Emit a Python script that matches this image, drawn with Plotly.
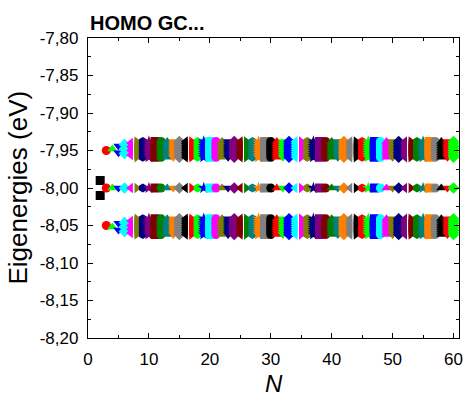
import plotly.graph_objects as go

# Chain lengths N and the HOMO eigenenergies (eV) found for each of them
n_values = list(range(2, 61))

# N = 2: a single split pair around -8.00 eV
pair_n2 = [-7.990, -8.010]

# Upper cluster (around -7.95 eV) for short chains, then the saturated spread
upper_short = {
    3: [-7.950],
    4: [-7.948],
    5: [-7.944, -7.953],
    6: [-7.942, -7.948, -7.954],
    7: [-7.940, -7.945, -7.950, -7.956],
}
upper_long = [-7.938, -7.941, -7.944, -7.947, -7.950, -7.953, -7.956, -7.959]

# Central level, essentially flat at -8.00 eV
middle_level = [-8.000]

# Lower cluster (around -8.05 eV)
lower_short = {
    3: [-8.050],
    4: [-8.052],
    5: [-8.047, -8.056],
    6: [-8.046, -8.052, -8.058],
    7: [-8.044, -8.050, -8.055, -8.060],
}
lower_long = [-8.041, -8.044, -8.047, -8.050, -8.053, -8.056, -8.059, -8.062]

# Axis ticks
y_tickvals = [-8.20, -8.15, -8.10, -8.05, -8.00, -7.95, -7.90, -7.85, -7.80]
y_ticktext = ["-8,20", "-8,15", "-8,10", "-8,05", "-8,00", "-7,95", "-7,90", "-7,85", "-7,80"]
x_tickvals = [0, 10, 20, 30, 40, 50, 60]
x_ticktext = ["0", "10", "20", "30", "40", "50", "60"]

# Origin-like cycling styles
palette = ["#000000", "#FF0000", "#00FF00", "#0000FF", "#00FFFF", "#FF00FF",
           "#808000", "#000080", "#800080", "#800000", "#008000", "#008080",
           "#FF8000", "#808080"]
symbol_cycle = ["square", "circle", "triangle-up", "triangle-down", "diamond",
                "triangle-left", "triangle-right", "hexagon", "star"]

FONT = "Arial, 'Liberation Sans', sans-serif"

fig = go.Figure()
for i, n in enumerate(n_values):
    if n == 2:
        energies = list(pair_n2)
    else:
        up = upper_short.get(n, upper_long)
        lo = lower_short.get(n, lower_long)
        energies = list(up) + list(middle_level) + list(lo)
    fig.add_trace(go.Scatter(
        x=[n] * len(energies),
        y=energies,
        mode="markers",
        marker=dict(
            symbol=symbol_cycle[i % len(symbol_cycle)],
            color=palette[i % len(palette)],
            size=9,
            line=dict(width=0),
        ),
        showlegend=False,
        hoverinfo="x+y",
    ))

axis_common = dict(
    showline=True, linecolor="black", linewidth=1.3,
    mirror="allticks", ticks="inside", ticklen=5, tickwidth=1.2,
    tickcolor="black", showgrid=False, zeroline=False,
    tickfont=dict(family=FONT, size=17, color="black"),
)

fig.update_xaxes(
    range=[0, 60.9],
    tickvals=x_tickvals, ticktext=x_ticktext,
    minor=dict(ticks="inside", ticklen=3, tickwidth=1.0, dtick=5, tick0=0,
               tickcolor="black"),
    ticklabelstandoff=5,
    **axis_common,
)
fig.update_yaxes(
    range=[-8.20, -7.80],
    tickvals=y_tickvals, ticktext=y_ticktext,
    minor=dict(ticks="inside", ticklen=3, tickwidth=1.0, dtick=0.025,
               tick0=-8.2, tickcolor="black"),
    ticklabelstandoff=5,
    **axis_common,
)

fig.update_layout(
    width=468, height=398,
    margin=dict(l=88, r=5, t=38, b=60),
    paper_bgcolor="white", plot_bgcolor="white",
    font=dict(family=FONT, color="black"),
    annotations=[
        dict(text="<b>HOMO GC...</b>", xref="paper", yref="paper",
             x=0, y=1.05, xanchor="left", yanchor="middle",
             showarrow=False, font=dict(family=FONT, size=20, color="black")),
        dict(text="Eigenergies (eV)", xref="paper", yref="paper",
             x=-0.19, y=0.5, xanchor="center", yanchor="middle",
             textangle=-90, showarrow=False,
             font=dict(family=FONT, size=26, color="black")),
        dict(text="<i>N</i>", xref="paper", yref="paper",
             x=0.5, y=-0.15, xanchor="center", yanchor="middle",
             showarrow=False, font=dict(family=FONT, size=24, color="black")),
    ],
)

fig.write_html("out.html")
